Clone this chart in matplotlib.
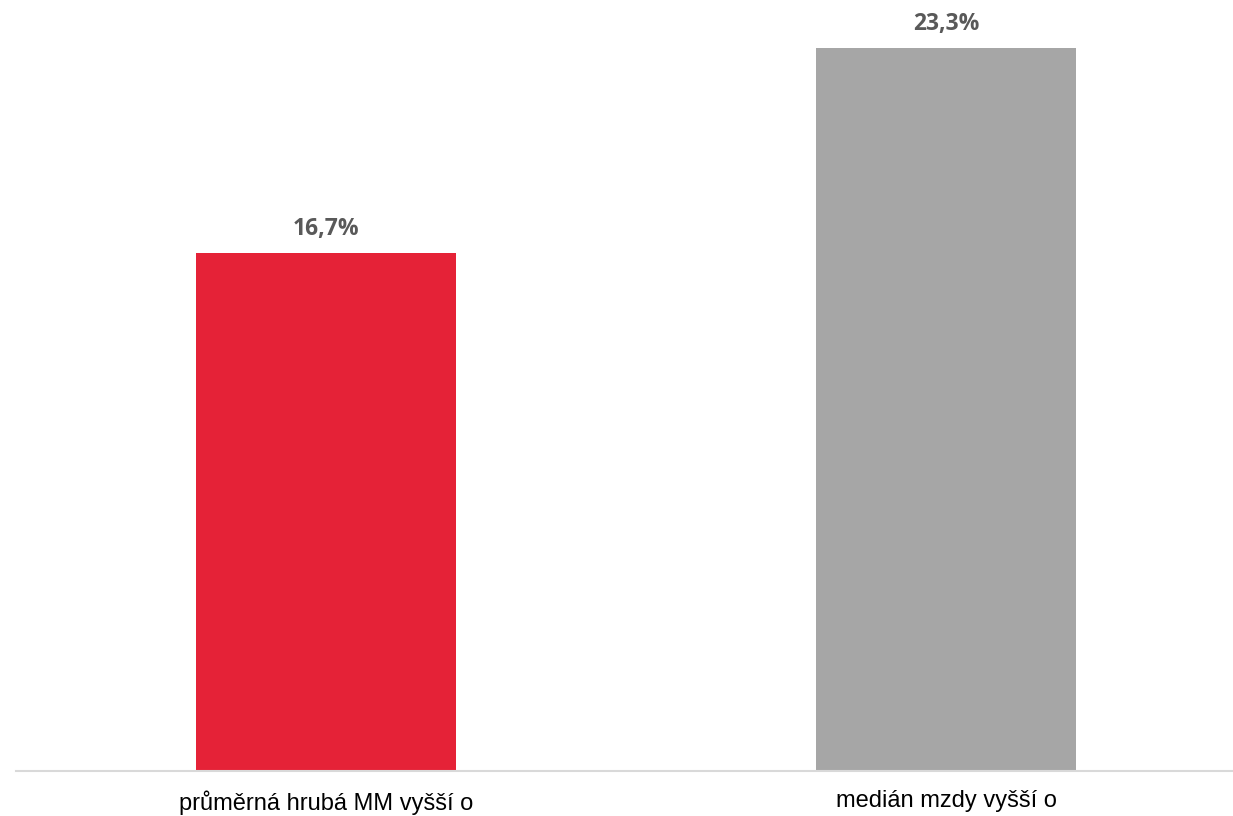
import numpy as np
import matplotlib.pyplot as plt

categories = ['průměrná hrubá MM vyšší o', 'medián mzdy vyšší o']
values = [16.7, 23.3]
labels = ['16,7%', '23,3%']
colors = ['#E52237', '#A6A6A6']

fig = plt.figure(figsize=(12.33, 8.16), dpi=100)
ax = fig.add_axes([16 / 1233, 45 / 816, 1 - 16 / 1233, 1 - 45 / 816])

x = np.arange(len(categories))
ax.bar(x, values, width=0.419, color=colors, zorder=2)

for xi, v, lab in zip(x, values, labels):
    ax.annotate(lab, (xi, v), xytext=(0, 9), textcoords='offset points',
                ha='center', va='bottom', fontsize=16.5, fontweight='bold',
                color='#595959', family='Open Sans')

ax.set_xlim(-0.5, 1.462)
ax.set_ylim(0, 24.86)
ax.set_xticks(x)
ax.set_xticklabels(categories, fontsize=17, family='Liberation Sans', color='black')
ax.tick_params(axis='x', length=0, pad=14)
ax.set_yticks([])
for s in ['top', 'right', 'left']:
    ax.spines[s].set_visible(False)
ax.spines['bottom'].set_color('#D9D9D9')
ax.spines['bottom'].set_linewidth(1.5)

fig.savefig('out.png', dpi=100)
